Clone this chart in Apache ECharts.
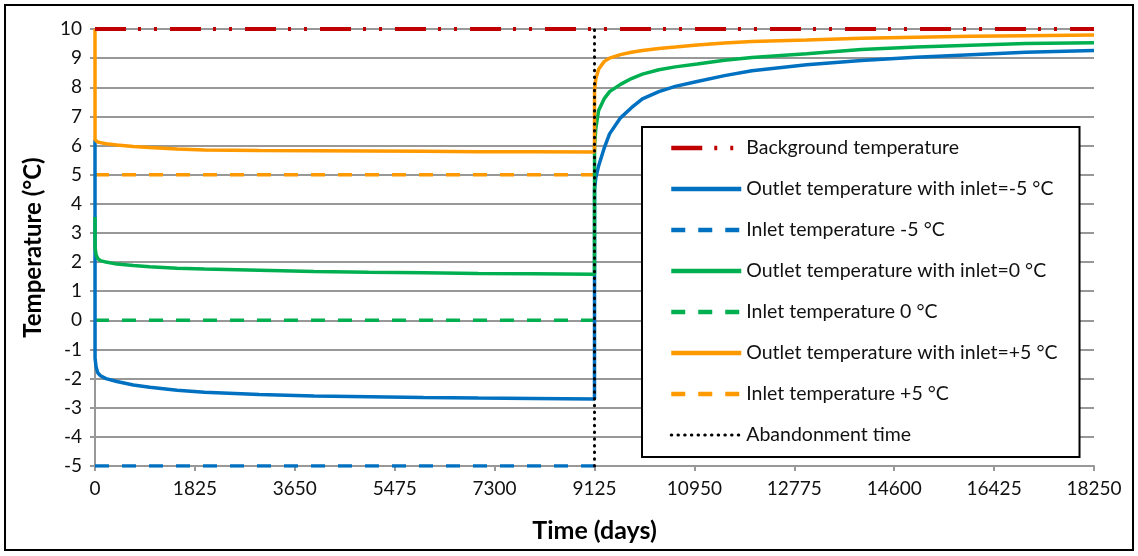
<!DOCTYPE html>
<html>
<head>
<meta charset="utf-8">
<script src="https://cdn.jsdelivr.net/npm/echarts@6/dist/echarts.min.js"></script>
<style>
  html, body { margin: 0; padding: 0; background: #fff; }
  #chart { width: 1138px; height: 556px; }
</style>
</head>
<body>
<div id="chart"></div>
<script>
// time axis (days), shared by the three outlet curves
const days = [0, 1, 20, 50, 100, 200, 400, 700, 1000, 1500, 2000, 3000, 4000, 5000, 6000, 7000, 8000, 9125,
  9126, 9150, 9200, 9300, 9400, 9600, 9800, 10000, 10300, 10600, 11000, 11500, 12000, 13000, 14000, 15000, 16000, 17000, 18250];

// outlet temperatures
const outletMinus5 = [6.2, -1.3, -1.6, -1.8, -1.9, -2.0, -2.1, -2.22, -2.3, -2.4, -2.47, -2.55, -2.6, -2.62, -2.65, -2.67, -2.68, -2.7,
  4.5, 4.9, 5.3, 5.9, 6.4, 6.95, 7.3, 7.6, 7.85, 8.03, 8.2, 8.4, 8.57, 8.77, 8.92, 9.03, 9.12, 9.2, 9.26];
const outletZero = [3.55, 2.5, 2.25, 2.12, 2.05, 2.0, 1.93, 1.88, 1.84, 1.79, 1.76, 1.72, 1.68, 1.65, 1.63, 1.61, 1.6, 1.58,
  6.0, 6.6, 7.2, 7.6, 7.85, 8.1, 8.3, 8.45, 8.6, 8.7, 8.8, 8.93, 9.02, 9.15, 9.3, 9.38, 9.44, 9.5, 9.53];
const outletPlus5 = [10, 6.2, 6.15, 6.12, 6.1, 6.06, 6.02, 5.97, 5.93, 5.88, 5.85, 5.83, 5.82, 5.81, 5.8, 5.79, 5.79, 5.78,
  7.9, 8.3, 8.62, 8.88, 9.0, 9.12, 9.2, 9.26, 9.33, 9.38, 9.45, 9.52, 9.57, 9.62, 9.68, 9.72, 9.75, 9.77, 9.79];

const inletTemps = [-5, 0, 5];
const backgroundTemp = 10;
const abandonmentDay = 9125;
const endDay = 18250;
const yTicks = [-5, 10, 1];      // min, max, step
const xTicks = [0, 18250, 1825]; // min, max, step

const names = [
  'Background temperature',
  'Outlet temperature with inlet=-5 °C',
  'Inlet temperature -5 °C',
  'Outlet temperature with inlet=0 °C',
  'Inlet temperature 0 °C',
  'Outlet temperature with inlet=+5 °C',
  'Inlet temperature +5 °C',
  'Abandonment time'
];

const font = 'Lato, "Open Sans", sans-serif';
const gridGray = '#989898';

function pairs(xs, ys) {
  return xs.map((x, i) => [x, ys[i]]);
}

function lineSeries(name, data, color, width, type, z) {
  return {
    name: name,
    type: 'line',
    data: data,
    symbol: 'none',
    showSymbol: false,
    z: z,
    itemStyle: { color: color },
    lineStyle: { color: color, width: width, type: type },
    emphasis: { disabled: true }
  };
}

const dashed = [14, 13];
const series = [
  lineSeries(names[0], [[0, backgroundTemp], [endDay, backgroundTemp]], '#C00000', 4, [31, 12, 3, 13, 3, 13], 6),
  lineSeries(names[1], pairs(days, outletMinus5), '#0070C0', 3.5, 'solid', 3),
  lineSeries(names[2], [[0, inletTemps[0]], [abandonmentDay, inletTemps[0]]], '#0070C0', 3.5, dashed, 2),
  lineSeries(names[3], pairs(days, outletZero), '#00B050', 3.5, 'solid', 4),
  lineSeries(names[4], [[0, inletTemps[1]], [abandonmentDay, inletTemps[1]]], '#00B050', 3.5, dashed, 2),
  lineSeries(names[5], pairs(days, outletPlus5), '#FF9900', 3.5, 'solid', 5),
  lineSeries(names[6], [[0, inletTemps[2]], [abandonmentDay, inletTemps[2]]], '#FF9900', 3.5, dashed, 2),
  lineSeries(names[7], [[abandonmentDay, yTicks[0]], [abandonmentDay, yTicks[1]]], '#000000', 3, [0.5, 6.2], 7)
];
series[7].lineStyle.cap = 'round';

// legend entries: thicker strokes, the dotted one a bit thinner
const legendData = names.map((n, i) => ({
  name: n,
  lineStyle: { width: i === 7 ? 3 : 4.5 }
}));

const chart = echarts.init(document.getElementById('chart'), null, { renderer: 'canvas' });
chart.setOption({
  animation: false,
  backgroundColor: '#fff',
  textStyle: { fontFamily: font },
  grid: { left: 95, right: 44, top: 29, bottom: 90, containLabel: false },
  xAxis: {
    type: 'value',
    min: xTicks[0],
    max: xTicks[1],
    interval: xTicks[2],
    name: 'Time (days)',
    nameLocation: 'middle',
    nameGap: 52,
    nameTextStyle: { fontSize: 25, fontWeight: 'bold', color: '#000', fontFamily: font },
    axisLine: { show: true, onZero: false, lineStyle: { color: gridGray, width: 2 } },
    axisTick: { show: true, length: 5, lineStyle: { color: gridGray, width: 2 } },
    axisLabel: { fontSize: 19, color: '#111', margin: 13, fontFamily: font, formatter: v => String(v) },
    splitLine: { show: false }
  },
  yAxis: {
    type: 'value',
    min: yTicks[0],
    max: yTicks[1],
    interval: yTicks[2],
    name: 'Temperature (°C)',
    nameLocation: 'middle',
    nameGap: 50,
    nameTextStyle: { fontSize: 24, fontWeight: 'bold', color: '#000', fontFamily: font },
    axisLine: { show: true, lineStyle: { color: gridGray, width: 2 } },
    axisTick: { show: true, length: 5, lineStyle: { color: gridGray, width: 2 } },
    axisLabel: { fontSize: 19, color: '#111', margin: 13, fontFamily: font },
    splitLine: { show: true, lineStyle: { color: gridGray, width: 2 } }
  },
  legend: {
    data: legendData,
    orient: 'vertical',
    left: 642,
    top: 127,
    padding: [11, 22, 12, 27],
    itemWidth: 70,
    itemHeight: 14,
    itemGap: 21,
    backgroundColor: '#fff',
    borderColor: '#000',
    borderWidth: 2,
    borderRadius: 0,
    selectedMode: false,
    itemStyle: { opacity: 0 },
    textStyle: { fontSize: 19.5, color: '#111', fontFamily: font },
    z: 10
  },
  graphic: [{
    type: 'rect',
    shape: { x: 5, y: 5, width: 1128, height: 545 },
    style: { fill: 'none', stroke: '#000', lineWidth: 2 },
    silent: true,
    z: 100
  }],
  series: series
});
</script>
</body>
</html>
